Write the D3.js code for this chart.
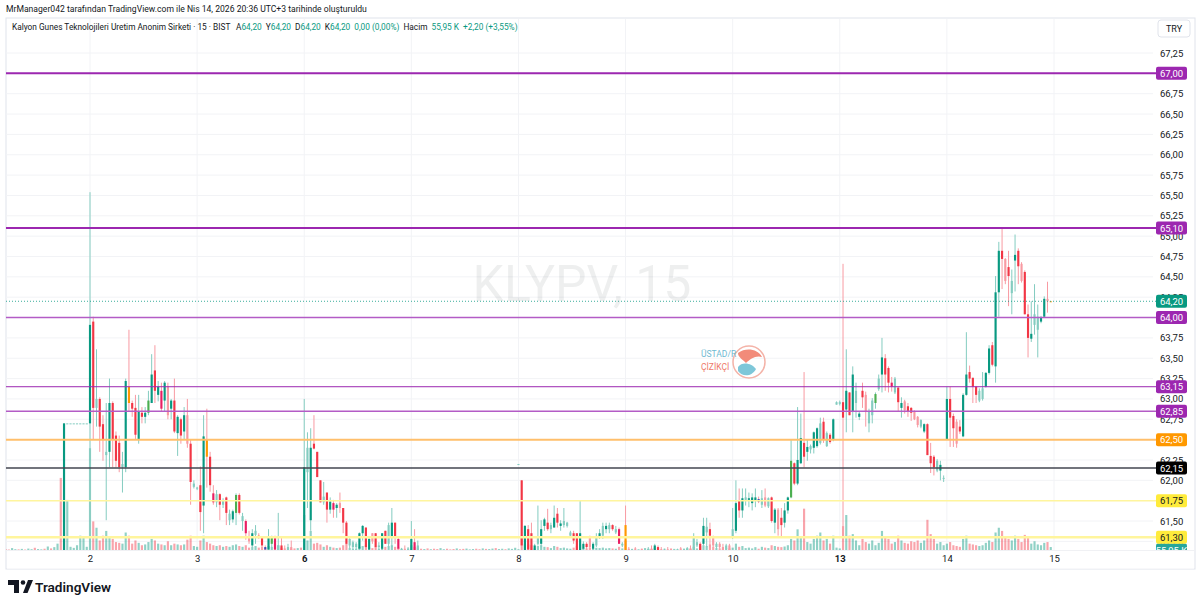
<!DOCTYPE html>
<html>
<head>
<meta charset="utf-8">
<script src="https://cdn.jsdelivr.net/npm/d3@7"></script>
<style>
  body { margin: 0; background: #fff; }
  svg text { font-family: "Trebuchet MS", Roboto, "Noto Sans", sans-serif; }
</style>
</head>
<body>
<svg id="chart" width="1200" height="607"></svg>
<script>
// ---- data (15 min bars, [open, high, low, close]) ----
const dayNames = ["2", "3", "6", "7", "8", "9", "10", "13", "14", "15"];
const weekStarts = ["6", "13"];
const barsPerDay = 33;

// previous session (1 Nis), only its tail is on screen
const apr01 = [
  [60.80,60.88,60.74,60.84],[60.84,60.90,60.78,60.80],[60.80,60.86,60.70,60.74],[60.74,60.82,60.70,60.80],
  [60.80,60.92,60.78,60.88],[60.88,60.90,60.76,60.78],[60.78,60.84,60.72,60.82],[60.82,60.86,60.74,60.76],
  [60.76,60.80,60.68,60.72],[60.72,60.84,60.70,60.82],[60.82,60.88,60.78,60.86],[60.86,60.90,60.80,60.82],
  [60.82,60.94,60.80,60.92],[60.92,60.96,60.84,60.86],[60.86,60.92,60.82,60.90],[60.90,60.98,60.86,60.94],
  [60.94,61.00,60.88,60.90],[60.90,60.96,60.86,60.94],[60.94,61.02,60.90,60.98],[60.98,61.04,60.92,60.96],
  [60.96,61.06,60.94,61.04],[61.04,61.08,60.96,61.00],[61.00,61.10,60.98,61.06],[61.06,61.12,61.00,61.10],
  [61.10,61.12,61.02,61.08],[61.08,62.70,61.04,62.70],[62.70,62.70,62.70,62.70],[62.70,62.70,62.70,62.70],
  [62.70,62.70,62.70,62.70],[62.70,62.70,62.70,62.70],[62.70,62.70,62.70,62.70],[62.70,62.70,62.70,62.70],
  [62.70,62.70,62.70,62.70]
];
const apr01State = "UDDUUDUDDUUDUDUUDUUDUDUUDuUUUUUUU";
const apr01Vol = [18,12,24,9,15,30,12,18,9,36,15,12,21,9,27,15,42,18,12,24,66,30,54,120,1360,900,945,60,40,90,270,250,60];

const apr02 = [
  [62.70,65.54,62.21,63.91],[63.95,64.01,62.50,62.89],[62.89,63.61,62.66,63.00],[63.00,63.02,62.35,62.66],
  [62.69,62.80,62.24,62.50],[62.31,62.95,61.51,62.35],[62.35,63.25,62.16,62.95],[62.95,62.97,62.16,62.50],
  [62.55,62.60,62.16,62.24],[62.46,62.55,62.10,62.16],[62.16,62.35,61.85,62.20],[62.16,63.25,62.10,63.22],
  [63.15,63.85,62.85,62.95],[62.95,62.98,62.78,62.88],[62.89,63.05,62.50,62.56],[62.50,63.05,62.45,62.85],
  [62.83,62.90,62.70,62.78],[62.78,62.90,62.70,62.83],[62.83,63.10,62.80,62.98],[62.95,63.55,62.95,63.30],
  [63.35,63.66,62.95,63.10],[63.05,63.22,62.97,63.15],[63.10,63.20,62.85,62.88],[62.98,63.22,62.85,63.20],
  [63.15,63.20,62.75,62.80],[62.88,63.00,62.75,62.98],[62.98,63.25,62.58,62.60],[62.58,62.80,62.30,62.78],
  [62.75,62.77,62.45,62.55],[62.60,62.90,62.50,62.80],[62.80,63.00,62.40,62.45],[62.45,62.50,61.70,61.98],
  [61.92,62.00,61.90,61.96]
];
const apr02State = "udUddUudddUuoddudugudupuDududuDdU";
const apr02Vol = [1920,540,420,180,270,360,240,210,150,135,120,330,270,120,180,135,90,105,150,210,180,120,105,90,165,90,120,105,90,105,195,270,75];

const apr03 = [
  [61.90,61.92,61.88,61.91],[61.94,62.17,61.38,61.61],[61.69,62.80,61.35,62.54],[62.50,62.88,61.91,62.29],
  [62.29,62.35,61.86,61.94],[61.84,61.94,61.70,61.73],[61.73,61.88,61.67,61.83],[61.83,61.84,61.51,61.70],
  [61.70,61.78,61.66,61.75],[61.79,61.80,61.45,61.60],[61.51,61.64,61.45,61.59],[61.52,61.64,61.48,61.62],
  [61.60,61.84,61.45,61.82],[61.82,61.84,61.58,61.60],[61.50,61.60,61.38,61.56],[61.50,61.52,61.27,61.35],
  [61.30,61.38,61.22,61.25],[61.20,61.40,61.18,61.35],[61.33,61.45,61.22,61.38],[61.32,61.35,61.28,61.30],
  [61.30,61.30,61.18,61.20],[61.18,61.20,61.10,61.15],[61.15,61.40,61.10,61.30],[61.22,61.32,61.15,61.30],
  [61.30,61.32,61.10,61.15],[61.14,61.60,61.10,61.20],[61.20,61.30,61.12,61.14],[61.14,61.20,61.04,61.08],
  [61.08,61.22,61.02,61.18],[61.18,61.26,61.08,61.10],[61.10,61.14,60.98,61.02],[61.02,61.12,60.96,61.08],
  [61.08,61.10,61.00,61.04]
];
const apr03State = "UduodpUdUdUugdUpDuUodbugpUdDUDDUD";
const apr03Vol = [60,180,270,150,120,90,75,90,60,75,60,90,105,75,60,90,45,60,75,45,60,30,75,60,45,90,45,30,36,24,30,36,45];

const apr06 = [
  [61.08,63.00,60.98,62.16],[62.10,62.59,61.66,62.40],[61.51,62.64,61.38,62.40],[62.45,62.80,62.38,62.39],
  [62.35,62.35,62.04,62.04],[62.00,62.00,61.73,61.73],[61.73,61.98,61.70,61.80],[61.85,61.85,61.48,61.64],
  [61.64,61.79,61.59,61.74],[61.72,61.76,61.54,61.64],[61.66,61.72,61.54,61.70],[61.72,61.85,61.60,61.66],
  [61.66,61.66,61.35,61.48],[61.48,61.50,61.20,61.22],[61.20,61.30,61.16,61.28],[61.18,61.26,61.15,61.24],
  [61.18,61.24,61.15,61.22],[61.16,61.36,61.14,61.35],[61.35,61.45,61.26,61.44],[61.42,61.42,61.16,61.18],
  [61.15,61.30,61.13,61.28],[61.35,61.35,61.22,61.25],[61.35,61.35,61.14,61.18],[61.18,61.24,61.12,61.20],
  [61.16,61.35,61.14,61.35],[61.38,61.38,61.22,61.22],[61.22,61.48,61.16,61.45],[61.30,61.66,61.18,61.48],
  [61.48,61.48,61.22,61.30],[61.28,61.30,61.16,61.16],[61.15,61.17,61.12,61.16],[61.14,61.20,61.08,61.12],
  [61.12,61.18,61.06,61.15]
];
const apr06State = "uUudddUdupuDddUUUuuduDdUudUudpUDU";
const apr06Vol = [660,180,360,120,135,105,60,90,60,45,36,45,90,120,36,24,24,60,75,90,45,36,60,24,45,60,75,90,60,45,18,24,30];

const apr07 = [
  [61.14,61.50,61.10,61.28],[61.24,61.40,61.10,61.14],[61.12,61.26,61.08,61.20],[61.10,61.12,61.00,61.04],
  [61.04,61.08,60.98,61.06],[61.06,61.10,61.00,61.02],[61.02,61.06,60.96,61.04],[61.04,61.08,60.98,61.00],
  [61.00,61.04,60.94,60.98],[60.98,61.06,60.96,61.04],[61.04,61.10,61.00,61.08],[61.08,61.10,61.00,61.02],
  [61.02,61.06,60.98,61.00],[61.00,61.04,60.94,60.96],[60.96,61.02,60.92,61.00],[61.00,61.04,60.96,60.98],
  [60.98,61.00,60.92,60.94],[60.94,61.00,60.90,60.98],[60.98,61.02,60.94,61.00],[61.00,61.06,60.98,61.04],
  [61.04,61.08,61.00,61.02],[61.02,61.06,60.96,60.98],[60.98,61.04,60.94,61.02],[61.02,61.06,60.98,61.00],
  [61.00,61.04,60.96,61.02],[61.02,61.08,61.00,61.06],[61.06,61.10,61.02,61.04],[61.04,61.08,61.00,61.06],
  [61.06,61.12,61.04,61.10],[61.10,61.12,61.02,61.04],[61.04,61.08,61.00,61.06],[61.06,61.10,61.02,61.08],
  [61.08,61.12,61.04,61.10]
];
const apr07State = "upUDUDUDDUUDDDUDDUUUDDUDUUDUUDUUU";
const apr07Vol = [90,60,45,24,18,30,15,24,18,36,15,24,12,18,30,15,21,27,12,18,24,15,30,21,18,27,36,18,24,15,30,21,42];

const apr08 = [
  [62.20,62.20,62.20,62.20],[62.00,62.00,61.10,61.20],[61.12,61.45,61.10,61.44],[61.40,61.45,61.12,61.15],
  [61.35,61.48,61.12,61.14],[61.14,61.22,61.12,61.20],[61.22,61.69,61.20,61.30],[61.22,61.51,61.18,61.40],
  [61.44,61.54,61.38,61.52],[61.48,61.65,61.38,61.40],[61.40,61.48,61.35,61.45],[61.42,61.69,61.42,61.54],
  [61.59,61.66,61.42,61.48],[61.44,61.51,61.38,61.47],[61.45,61.66,61.42,61.50],[61.44,61.49,61.42,61.48],
  [61.32,61.38,61.30,61.36],[61.35,61.38,61.22,61.26],[61.35,61.35,61.12,61.14],[61.14,61.75,61.10,61.35],
  [61.16,61.25,61.12,61.22],[61.22,61.24,61.14,61.18],[61.30,61.32,61.16,61.18],[61.16,61.24,61.14,61.22],
  [61.20,61.35,61.18,61.30],[61.30,61.40,61.28,61.35],[61.32,61.48,61.28,61.44],[61.40,61.48,61.35,61.44],
  [61.40,61.48,61.35,61.45],[61.45,61.46,61.38,61.40],[61.36,61.44,61.34,61.40],[61.40,61.42,61.22,61.22],
  [61.20,61.24,61.18,61.22]
];
const apr08State = "UdudduUuudUuduUUUdduudDuUuUuUdUpU";
const apr08Vol = [15,270,120,105,90,30,75,90,60,54,36,75,60,36,45,30,24,45,75,105,36,30,45,36,42,36,45,30,36,30,24,60,30];

const apr09 = [
  [61.45,61.69,61.10,61.12],[61.12,61.18,61.06,61.10],[61.10,61.16,61.04,61.14],[61.14,61.18,61.08,61.10],
  [61.10,61.14,61.04,61.12],[61.12,61.16,61.06,61.08],[61.08,61.14,61.04,61.12],[61.12,61.18,61.08,61.16],
  [61.16,61.20,61.10,61.12],[61.14,61.22,61.12,61.20],[61.18,61.20,61.10,61.14],[61.14,61.18,61.08,61.10],
  [61.10,61.16,61.06,61.14],[61.14,61.18,61.08,61.12],[61.12,61.16,61.06,61.08],[61.08,61.14,61.04,61.12],
  [61.12,61.16,61.08,61.14],[61.14,61.18,61.10,61.12],[61.12,61.16,61.08,61.14],[61.14,61.18,61.10,61.16],
  [61.16,61.20,61.12,61.14],[61.14,61.35,61.12,61.30],[61.20,61.28,61.18,61.24],[61.22,61.24,61.10,61.12],
  [61.22,61.54,61.20,61.44],[61.36,61.54,61.18,61.43],[61.40,61.48,61.18,61.32],[61.30,61.32,61.18,61.20],
  [61.18,61.24,61.14,61.22],[61.22,61.24,61.16,61.18],[61.18,61.22,61.12,61.14],[61.16,61.22,61.14,61.20],
  [61.20,61.22,61.12,61.14]
];
const apr09State = "oDUDUDUUDudDUDDUUDUUDUUduUdDUDDUD";
const apr09Vol = [180,24,18,30,15,24,36,18,21,45,36,18,24,15,27,21,18,30,24,36,27,60,30,75,90,75,105,60,36,30,24,36,30];

const apr10 = [
  [61.30,61.66,61.28,61.40],[61.38,62.00,61.35,61.72],[61.75,61.90,61.54,61.63],[61.63,61.90,61.54,61.78],
  [61.76,61.90,61.69,61.79],[61.76,61.85,61.67,61.78],[61.72,61.84,61.63,61.79],[61.75,61.90,61.67,61.79],
  [61.77,61.80,61.72,61.74],[61.70,61.88,61.66,61.78],[61.79,61.90,61.67,61.69],[61.68,61.79,61.66,61.78],
  [61.79,61.80,61.48,61.50],[61.48,61.66,61.35,61.64],[61.64,61.66,61.32,61.40],[61.54,61.66,61.30,61.45],
  [61.48,61.72,61.42,61.63],[61.63,61.80,61.59,61.79],[61.79,62.50,61.78,62.24],[62.21,62.22,61.94,61.96],
  [61.96,62.90,61.94,62.25],[62.21,62.82,62.20,62.52],[62.46,63.33,62.16,62.29],[62.35,62.50,62.24,62.41],
  [62.38,62.44,62.33,62.42],[62.40,62.60,62.33,62.59],[62.42,62.65,62.40,62.64],[62.46,62.77,62.44,62.70],
  [62.72,62.77,62.46,62.50],[62.42,62.60,62.41,62.58],[62.56,62.58,62.45,62.47],[62.50,62.76,62.48,62.75],
  [62.93,62.97,62.93,62.96]
];
const apr10State = "UuduUuuubUDUduDduugduuduUuuUdUduU";
const apr10Vol = [45,120,60,75,36,45,30,54,24,60,45,36,90,75,60,54,66,90,210,180,390,240,780,150,120,210,270,330,180,210,120,270,45];

const apr13 = [
  [62.94,62.98,62.92,62.96],[62.96,64.66,61.26,62.77],[62.87,63.61,62.59,63.10],[63.08,63.08,62.80,62.80],
  [62.85,63.40,62.59,63.30],[62.95,63.20,62.77,63.10],[62.78,62.84,62.74,62.82],[63.10,63.20,62.89,63.02],
  [63.05,63.09,62.66,62.85],[62.70,62.88,62.59,62.85],[62.80,63.01,62.70,62.98],[62.95,63.08,62.88,63.06],
  [63.12,63.30,63.10,63.25],[63.30,63.75,63.08,63.51],[63.50,63.55,63.10,63.30],[63.38,63.40,63.08,63.20],
  [63.20,63.27,63.09,63.15],[63.08,63.27,63.06,63.25],[63.14,63.14,62.84,62.96],[62.89,63.02,62.77,62.95],
  [62.97,62.99,62.82,62.86],[62.91,62.95,62.78,62.85],[62.89,62.90,62.73,62.83],[62.85,62.86,62.74,62.75],
  [62.78,62.79,62.65,62.68],[62.66,62.75,62.64,62.74],[62.60,62.70,62.58,62.69],[62.69,62.70,62.31,62.31],
  [62.30,62.46,62.09,62.21],[62.29,62.31,62.06,62.16],[62.12,62.26,62.10,62.24],[62.12,62.24,62.00,62.19],
  [62.02,62.06,61.98,62.03]
];
const apr13State = "UduduUudDUUgUuddpUduDddDDUudddUuU";
const apr13Vol = [30,450,660,270,300,180,90,210,150,120,180,90,135,360,240,210,120,150,270,180,135,120,165,150,180,135,180,570,300,210,120,150,90];

const apr14 = [
  [62.50,63.15,62.50,63.00],[63.00,63.15,62.41,62.77],[62.79,62.82,62.41,62.64],[62.72,62.75,62.40,62.45],
  [62.66,62.74,62.57,62.60],[62.54,63.07,62.53,63.05],[63.05,63.82,63.04,63.30],[63.33,63.41,63.20,63.25],
  [63.26,63.26,62.95,63.15],[63.15,63.16,62.95,63.05],[62.98,63.13,62.96,63.10],[63.00,63.33,62.98,63.13],
  [63.15,63.33,63.14,63.32],[63.32,63.66,63.30,63.62],[63.66,63.70,63.40,63.42],[63.40,64.51,63.20,64.31],
  [64.31,64.93,64.01,64.82],[64.82,65.11,64.35,64.72],[64.72,64.73,64.41,64.45],[64.62,64.82,64.14,64.51],
  [64.30,64.59,64.04,64.45],[64.70,65.02,64.32,64.77],[64.82,64.85,64.41,64.63],[64.66,64.68,64.43,64.45],
  [64.56,64.58,64.04,64.04],[64.04,64.16,63.51,63.75],[63.74,64.20,63.70,63.80],[63.91,64.41,63.79,64.04],
  [63.85,64.16,63.51,64.01],[63.95,64.02,63.93,64.00],[64.01,64.26,64.00,64.23],[64.23,64.44,64.06,64.20],
  [64.20,64.20,64.20,64.20]
];
const apr14State = "uddDduudddUUuuduudDdUudDdduUUuuDo";
const apr14Vol = [120,150,90,75,60,210,270,120,105,90,75,90,135,180,150,330,420,360,240,210,180,270,210,150,285,240,120,165,105,90,135,150,55.95];

const priceTicks = [61.25,61.50,61.75,62.00,62.25,62.50,62.75,63.00,63.25,63.50,63.75,64.00,64.25,64.50,64.75,65.00,65.25,65.50,65.75,66.00,66.25,66.50,66.75,67.00,67.25];
const levelPrices = [67.00, 65.10, 64.00, 63.15, 62.85, 62.50, 62.15, 61.75, 61.30];
const levelKinds = ["main", "main", "side", "thin", "side", "orange", "black", "yellowThin", "yellow"];
const lastPrice = 64.20;
const lastVolume = 55.95;

// ---- layout ----
const svg = d3.select("svg#chart");
const pane = { left: 6, right: 1153, top: 19, bottom: 550 };

const sessions = [
  [apr01, apr01State, apr01Vol], [apr02, apr02State, apr02Vol], [apr03, apr03State, apr03Vol],
  [apr06, apr06State, apr06Vol], [apr07, apr07State, apr07Vol], [apr08, apr08State, apr08Vol],
  [apr09, apr09State, apr09Vol], [apr10, apr10State, apr10Vol], [apr13, apr13State, apr13Vol],
  [apr14, apr14State, apr14Vol]
];
let candles = [];
sessions.forEach((s, k) => {
  const states = s[1].split("");
  s[0].forEach((b, j) => {
    candles.push({ i: (k - 1) * barsPerDay + j, o: b[0], h: b[1], l: b[2], c: b[3], st: states[j], v: s[2][j] });
  });
});

const x = d3.scaleLinear().domain([0, 297]).range([90, 1054]);
const y = d3.scaleLinear().domain([61.144, 67.668]).range([pane.bottom, pane.top]);
const vol = d3.scaleLinear().domain([0, 2000]).range([pane.bottom, pane.bottom - 106]);
const step = x(1) - x(0);
const bodyW = step * 0.66;

const stateColor = d3.scaleOrdinal()
  .domain(["u", "d", "U", "D", "o", "p", "g", "b"])
  .range(["#089981", "#f23645", "#84ccc0", "#f89aa2", "#ff9800", "#e91e63", "#4caf50", "#3f51b5"]);
const fmt = (v) => d3.format(".2f")(v).replace(".", ",");
const dayIdx = dayNames.map((d, i) => i * barsPerDay);

// header
svg.append("text").attr("x", 6).attr("y", 12).attr("font-size", 8.6).attr("fill", "#131722")
  .text("MrManager042 tarafından TradingView.com ile Nis 14, 2026 20:36 UTC+3 tarihinde oluşturuldu");

// frame
svg.append("rect").attr("x", 6).attr("y", 18).attr("width", 1189).attr("height", 551)
  .attr("fill", "#fff").attr("stroke", "#e0e3eb");

// grid
const grid = svg.append("g");
grid.selectAll("line.h").data(priceTicks).join("line")
  .attr("x1", pane.left).attr("x2", pane.right)
  .attr("y1", (d) => y(d)).attr("y2", (d) => y(d))
  .attr("stroke", "#f2f3f6");
grid.selectAll("line.v").data(dayIdx).join("line")
  .attr("x1", (d) => x(d)).attr("x2", (d) => x(d))
  .attr("y1", pane.top).attr("y2", pane.bottom)
  .attr("stroke", "#f2f3f6");

// watermark
svg.append("text").attr("x", 582).attr("y", 301).attr("text-anchor", "middle")
  .attr("font-size", 50).attr("fill", "#131722").attr("fill-opacity", 0.07)
  .text("KLYPV, 15");

// small logo
const logo = svg.append("g").attr("transform", "translate(700,345)");
logo.append("circle").attr("cx", 49).attr("cy", 17).attr("r", 16)
  .attr("fill", "none").attr("stroke", "#f4b3a8").attr("stroke-width", 1.5);
logo.append("path").attr("d", "M38,8 C46,2 58,4 62,12 C56,10 50,14 46,18 C42,14 38,12 38,8 Z").attr("fill", "#f28b7a");
logo.append("path").attr("d", "M38,22 C42,16 52,18 56,24 C52,32 42,32 38,26 Z").attr("fill", "#7ec7d9");
logo.append("text").attr("x", 1).attr("y", 12).attr("font-size", 8.5).attr("fill", "#6fb9d1").text("ÜSTAD/R");
logo.append("text").attr("x", 1).attr("y", 25).attr("font-size", 8.5).attr("fill", "#ee7a6a").text("ÇİZİKÇİ");

// plot area
svg.append("clipPath").attr("id", "paneClip").append("rect")
  .attr("x", pane.left).attr("y", pane.top)
  .attr("width", pane.right - pane.left).attr("height", pane.bottom - pane.top);
const plot = svg.append("g").attr("clip-path", "url(#paneClip)");

// volume
plot.append("g").selectAll("rect").data(candles).join("rect")
  .attr("x", (d) => x(d.i) - bodyW / 2)
  .attr("y", (d) => vol(d.v))
  .attr("width", bodyW)
  .attr("height", (d) => pane.bottom - vol(d.v))
  .attr("fill", (d) => (d.c >= d.o ? "#089981" : "#f23645"))
  .attr("fill-opacity", 0.45);

// candles
const cg = plot.append("g");
cg.selectAll("line").data(candles).join("line")
  .attr("x1", (d) => x(d.i)).attr("x2", (d) => x(d.i))
  .attr("y1", (d) => y(d.h)).attr("y2", (d) => y(d.l))
  .attr("stroke", (d) => (d.c >= d.o ? "#84ccc0" : "#f89aa2"))
  .attr("stroke-width", 1);
cg.selectAll("rect").data(candles).join("rect")
  .attr("x", (d) => x(d.i) - bodyW / 2)
  .attr("y", (d) => y(Math.max(d.o, d.c)))
  .attr("width", bodyW)
  .attr("height", (d) => Math.max(1, Math.abs(y(d.o) - y(d.c))))
  .attr("fill", (d) => stateColor(d.st));

// horizontal levels
const levelStyle = {
  main: { line: "#9c27b0", w: 2, bg: "#9c27b0", fg: "#fff" },
  side: { line: "#b35cc6", w: 1.5, bg: "#9c27b0", fg: "#fff" },
  thin: { line: "#9c27b0", w: 1, bg: "#9c27b0", fg: "#fff" },
  orange: { line: "#ffbf6b", w: 2, bg: "#ff9800", fg: "#fff" },
  black: { line: "#434651", w: 1.5, bg: "#000", fg: "#fff" },
  yellowThin: { line: "#fff59d", w: 1.5, bg: "#ffeb3b", fg: "#131722" },
  yellow: { line: "#fff59d", w: 2.5, bg: "#ffeb3b", fg: "#131722" }
};
const levels = levelPrices.map((p, i) => ({ p: p, s: levelStyle[levelKinds[i]] }));
svg.append("g").selectAll("line").data(levels).join("line")
  .attr("x1", pane.left).attr("x2", 1156)
  .attr("y1", (d) => y(d.p)).attr("y2", (d) => y(d.p))
  .attr("stroke", (d) => d.s.line).attr("stroke-width", (d) => d.s.w);

// last price line
svg.append("line").attr("x1", pane.left).attr("x2", 1156)
  .attr("y1", y(lastPrice)).attr("y2", y(lastPrice))
  .attr("stroke", "#089981").attr("stroke-dasharray", "1,2").attr("stroke-opacity", 0.8);

// price axis (labels sitting under a level box are left out, as on the original)
const boxYs = levelPrices.map((p) => y(p)).concat([y(lastPrice)]);
const volBoxY = vol(lastVolume) + 3;
const shownTicks = priceTicks.filter((t) =>
  !boxYs.some((b) => Math.abs(b - y(t)) < 3) && Math.abs(volBoxY - y(t)) > 7);
const yAxis = svg.append("g").attr("transform", "translate(1158,0)")
  .call(d3.axisRight(y).tickValues(shownTicks).tickFormat(fmt).tickSize(0).tickPadding(2));
yAxis.select(".domain").remove();
yAxis.selectAll("text").attr("font-size", 9.5).attr("fill", "#131722")
  .attr("font-family", "\"Trebuchet MS\", Roboto, sans-serif");

// price labels
function priceLabel(v, bg, fg, txt) {
  const g = svg.append("g").attr("transform", `translate(1156,${v})`);
  g.append("rect").attr("x", 0).attr("y", -6.5).attr("width", 31).attr("height", 13)
    .attr("rx", 2).attr("fill", bg);
  g.append("text").attr("x", 15.5).attr("y", 3.5).attr("text-anchor", "middle")
    .attr("font-size", 9.5).attr("fill", fg).text(txt);
}
priceLabel(volBoxY, "#26a69a", "#fff", fmt(lastVolume) + " K");
levels.forEach((d) => priceLabel(y(d.p), d.s.bg, d.s.fg, fmt(d.p)));
priceLabel(y(lastPrice), "#089981", "#fff", fmt(lastPrice));

// time axis band
svg.append("rect").attr("x", 7).attr("y", pane.bottom + 0.5).attr("width", 1187).attr("height", 18)
  .attr("fill", "#fff");
svg.append("line").attr("x1", 6).attr("x2", 1195).attr("y1", pane.bottom + 0.5).attr("y2", pane.bottom + 0.5)
  .attr("stroke", "#f0f1f4");
const xAxis = svg.append("g").attr("transform", `translate(0,${pane.bottom})`)
  .call(d3.axisBottom(x).tickValues(dayIdx).tickFormat((d, i) => dayNames[i]).tickSize(0).tickPadding(5));
xAxis.select(".domain").remove();
xAxis.selectAll("text").attr("font-size", 9.5).attr("fill", "#131722")
  .attr("font-family", "\"Trebuchet MS\", Roboto, sans-serif")
  .attr("font-weight", (d, i) => (weekStarts.includes(dayNames[i]) ? "bold" : "normal"));

// currency box
svg.append("rect").attr("x", 1158).attr("y", 20).attr("width", 32).attr("height", 17).attr("rx", 3)
  .attr("fill", "#fff").attr("stroke", "#e0e3eb");
svg.append("text").attr("x", 1174).attr("y", 32).attr("text-anchor", "middle")
  .attr("font-size", 9).attr("fill", "#131722").text("TRY");

// legend line
const teal = "#089981";
const dark = "#131722";
const legendParts = [
  ["Kalyon Gunes Teknolojileri Uretim Anonim Sirketi · 15 · BIST", dark, 0],
  ["A", dark, 6], ["64,20", teal, 0],
  ["Y", dark, 4], ["64,20", teal, 0],
  ["D", dark, 4], ["64,20", teal, 0],
  ["K", dark, 4], ["64,20", teal, 0],
  ["0,00 (0,00%)", teal, 4],
  ["Hacim", dark, 4], ["55,95 K", teal, 4],
  ["+2,20 (+3,55%)", teal, 4]
];
const legend = svg.append("text").attr("x", 12).attr("y", 30).attr("font-size", 8.3);
legendParts.forEach((p) => {
  legend.append("tspan").attr("dx", p[2]).attr("fill", p[1]).text(p[0]);
});

// TradingView footer
const tv = svg.append("g").attr("fill", "#131722");
tv.append("path").attr("d", "M8,580 h11 v13 h-5 v-8 h-6 z");
tv.append("circle").attr("cx", 23).attr("cy", 582.5).attr("r", 2.3);
tv.append("path").attr("d", "M23,593 l5,-13 h5 l-5.5,13 z");
tv.append("text").attr("x", 35).attr("y", 592).attr("font-size", 13.6).attr("font-weight", 600)
  .text("TradingView");
</script>
</body>
</html>
